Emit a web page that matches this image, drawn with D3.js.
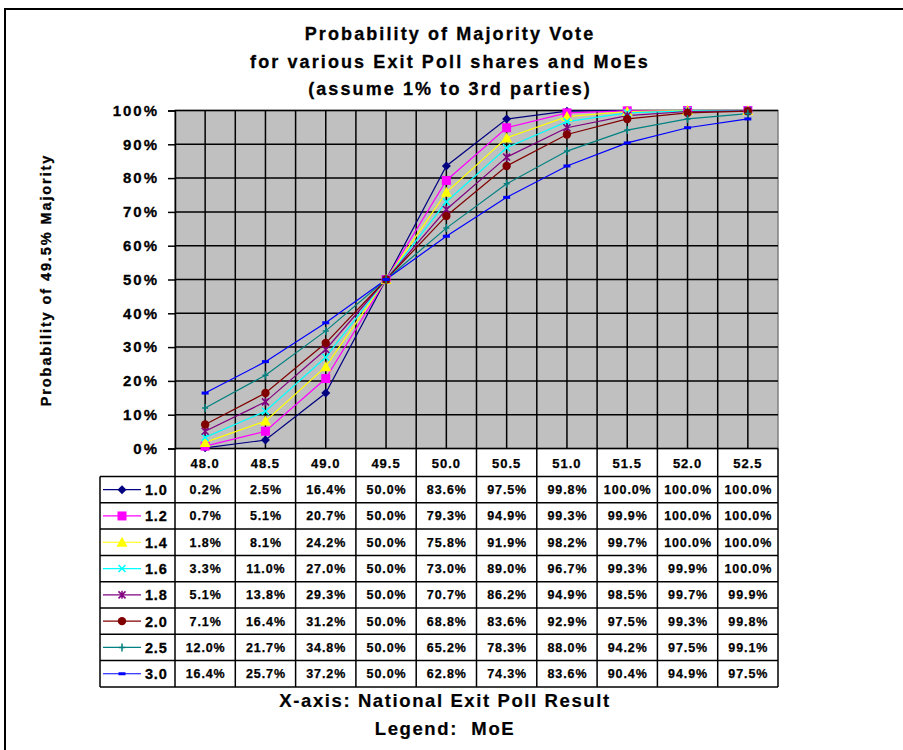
<!DOCTYPE html>
<html><head><meta charset="utf-8">
<script src="https://cdn.jsdelivr.net/npm/d3@7"></script>
<style>body{margin:0;background:#fff}svg{display:block}text{font-family:"Liberation Sans",Arial,sans-serif;font-weight:bold;fill:#000}</style>
</head><body><svg id="c" width="903" height="750"></svg>
<script>
const categories = ["48.0","48.5","49.0","49.5","50.0","50.5","51.0","51.5","52.0","52.5"];
const seriesNames = ["1.0","1.2","1.4","1.6","1.8","2.0","2.5","3.0"];
const s10 = [0.2,2.5,16.4,50.0,83.6,97.5,99.8,100.0,100.0,100.0];
const s12 = [0.7,5.1,20.7,50.0,79.3,94.9,99.3,99.9,100.0,100.0];
const s14 = [1.8,8.1,24.2,50.0,75.8,91.9,98.2,99.7,100.0,100.0];
const s16 = [3.3,11.0,27.0,50.0,73.0,89.0,96.7,99.3,99.9,100.0];
const s18 = [5.1,13.8,29.3,50.0,70.7,86.2,94.9,98.5,99.7,99.9];
const s20 = [7.1,16.4,31.2,50.0,68.8,83.6,92.9,97.5,99.3,99.8];
const s25 = [12.0,21.7,34.8,50.0,65.2,78.3,88.0,94.2,97.5,99.1];
const s30 = [16.4,25.7,37.2,50.0,62.8,74.3,83.6,90.4,94.9,97.5];
const yTicks = [0,10,20,30,40,50,60,70,80,90,100];
const titleLines = ["Probability of Majority Vote","for various Exit Poll shares and MoEs","(assume 1% to 3rd parties)"];

const seriesValues = [s10,s12,s14,s16,s18,s20,s25,s30];
const colors = ["#000080","#FF00FF","#FFFF00","#00FFFF","#800080","#800000","#008080","#0000FF"];
const markers = ["diamond","square","triangle","times","star","circle","plus","dash"];

const svg = d3.select("#c");
// outer frame
svg.append("rect").attr("x",5).attr("y",9).attr("width",940).attr("height",800)
  .attr("fill","#fff").attr("stroke","#000").attr("stroke-width",2);

const L=175,R=778,T=110.5,B=448.5;
const x = d3.scaleBand().domain(categories).range([L,R]).padding(0);
const y = d3.scaleLinear().domain([0,100]).range([B,T]);
const cx = c => x(c)+x.bandwidth()/2;

// title
titleLines.forEach((t,i)=>{
  svg.append("text").attr("x",450).attr("y",40+i*27.5).attr("text-anchor","middle")
    .attr("font-size",18).attr("letter-spacing",2.1).attr("stroke","#000").attr("stroke-width",0.3).text(t);
});

// plot background
svg.append("rect").attr("x",L).attr("y",T).attr("width",R-L).attr("height",B-T)
  .attr("fill","#C0C0C0").attr("stroke","#808080").attr("stroke-width",1.5);

const g = svg.append("g");
// horizontal grid
g.selectAll("line.h").data(yTicks).join("line")
  .attr("x1",L).attr("x2",R).attr("y1",d=>y(d)).attr("y2",d=>y(d))
  .attr("stroke","#000").attr("stroke-width",1.5);
// vertical grid at boundaries and centers
const vx = [];
categories.forEach(c=>{ vx.push(x(c)); vx.push(cx(c)); });
g.selectAll("line.v").data(vx.slice(1)).join("line")
  .attr("x1",d=>d).attr("x2",d=>d).attr("y1",T).attr("y2",B)
  .attr("stroke","#000").attr("stroke-width",1.5);

// y axis
const yAxis = d3.axisLeft(y).tickValues(yTicks).tickSize(7).tickPadding(9).tickFormat(d=>d+"%");
const ya = svg.append("g").attr("transform",`translate(${L},0)`).call(yAxis);
ya.select(".domain").attr("stroke","#000").attr("stroke-width",1.5);
ya.selectAll(".tick line").attr("stroke","#000").attr("stroke-width",1.5);
ya.selectAll(".tick text").attr("font-size",15).attr("font-family","Liberation Sans, Arial").attr("font-weight","bold")
  .attr("fill","#000").attr("letter-spacing",2).attr("stroke","#000").attr("stroke-width",0.3);

svg.append("text").attr("transform","translate(51,280) rotate(-90)").attr("text-anchor","middle")
  .attr("font-size",14.5).attr("letter-spacing",1.9).attr("stroke","#000").attr("stroke-width",0.3).text("Probability of 49.5% Majority");

function drawMarker(sel, type, color, px, py){
  const s = sel.append("g").attr("transform",`translate(${px},${py})`);
  if(type==="diamond") s.append("path").attr("d","M0,-4.5L4.5,0L0,4.5L-4.5,0Z").attr("fill",color);
  else if(type==="square") s.append("rect").attr("x",-4.5).attr("y",-4.5).attr("width",9).attr("height",9).attr("fill",color);
  else if(type==="triangle") s.append("path").attr("d","M0,-5.5L5.5,4.5L-5.5,4.5Z").attr("fill",color);
  else if(type==="times") s.append("path").attr("d","M-3.5,-3.5L3.5,3.5M3.5,-3.5L-3.5,3.5").attr("stroke",color).attr("stroke-width",1.5);
  else if(type==="star") s.append("path").attr("d","M-3.5,-3.5L3.5,3.5M3.5,-3.5L-3.5,3.5M0,-4L0,4").attr("stroke",color).attr("stroke-width",1.5);
  else if(type==="circle") s.append("circle").attr("r",4.2).attr("fill",color);
  else if(type==="plus") s.append("path").attr("d","M0,-4L0,4M-3,0L3,0").attr("stroke",color).attr("stroke-width",1.5);
  else if(type==="dash") s.append("rect").attr("x",-3.5).attr("y",-1.5).attr("width",7).attr("height",3).attr("fill",color);
}

// series lines & markers
const line = d3.line().x((d,i)=>cx(categories[i])).y(d=>y(d));
seriesValues.forEach((vals,k)=>{
  svg.append("path").datum(vals).attr("d",line).attr("fill","none")
    .attr("stroke",colors[k]).attr("stroke-width",1.2);
});
seriesValues.forEach((vals,k)=>{
  const mg = svg.append("g");
  vals.forEach((v,i)=>drawMarker(mg, markers[k], colors[k], cx(categories[i]), y(v)));
});

// data table
const rowH = 26.3, headTop = B, headBot = 476.5, legL = 100;
const tbl = svg.append("g");
const lastBot = headBot + rowH*seriesNames.length;
// header row
categories.forEach(c=>{
  tbl.append("text").attr("x",cx(c)).attr("y",(headTop+headBot)/2+5).attr("text-anchor","middle")
    .attr("font-size",13).attr("letter-spacing",1).attr("stroke","#000").attr("stroke-width",0.25).text(c);
});
// vertical cell lines
categories.forEach(c=>{
  tbl.append("line").attr("x1",x(c)).attr("x2",x(c)).attr("y1",headTop).attr("y2",lastBot)
    .attr("stroke","#000").attr("stroke-width",1.5);
});
tbl.append("line").attr("x1",R).attr("x2",R).attr("y1",headTop).attr("y2",lastBot).attr("stroke","#000").attr("stroke-width",1.5);
tbl.append("line").attr("x1",legL).attr("x2",legL).attr("y1",headBot).attr("y2",lastBot).attr("stroke","#000").attr("stroke-width",1.5);
// horizontal row lines
for(let r=0;r<=seriesNames.length;r++){
  const yy = headBot + r*rowH;
  tbl.append("line").attr("x1",legL).attr("x2",R).attr("y1",yy).attr("y2",yy).attr("stroke","#000").attr("stroke-width",1.5);
}
seriesNames.forEach((n,r)=>{
  const yc = headBot + r*rowH + rowH/2;
  tbl.append("line").attr("x1",103).attr("x2",141).attr("y1",yc).attr("y2",yc).attr("stroke",colors[r]).attr("stroke-width",1.2);
  drawMarker(tbl, markers[r], colors[r], 122, yc);
  tbl.append("text").attr("x",145).attr("y",yc+5.5).attr("font-size",14.5).attr("letter-spacing",0.8)
    .attr("stroke","#000").attr("stroke-width",0.3).text(n);
  seriesValues[r].forEach((v,i)=>{
    tbl.append("text").attr("x",cx(categories[i])+0.5).attr("y",yc+4.5).attr("text-anchor","middle")
      .attr("font-size",12.5).attr("letter-spacing",0.9).attr("stroke","#000").attr("stroke-width",0.25).text(v.toFixed(1)+"%");
  });
});

svg.append("text").attr("x",445).attr("y",707).attr("text-anchor","middle").attr("font-size",18.5)
  .attr("letter-spacing",1.6).attr("stroke","#000").attr("stroke-width",0.2).text("X-axis: National Exit Poll Result");
svg.append("text").attr("x",445).attr("y",735).attr("text-anchor","middle").attr("font-size",18.5)
  .attr("letter-spacing",1.6).attr("stroke","#000").attr("stroke-width",0.2).attr("xml:space","preserve").text("Legend:  MoE");
</script></body></html>
